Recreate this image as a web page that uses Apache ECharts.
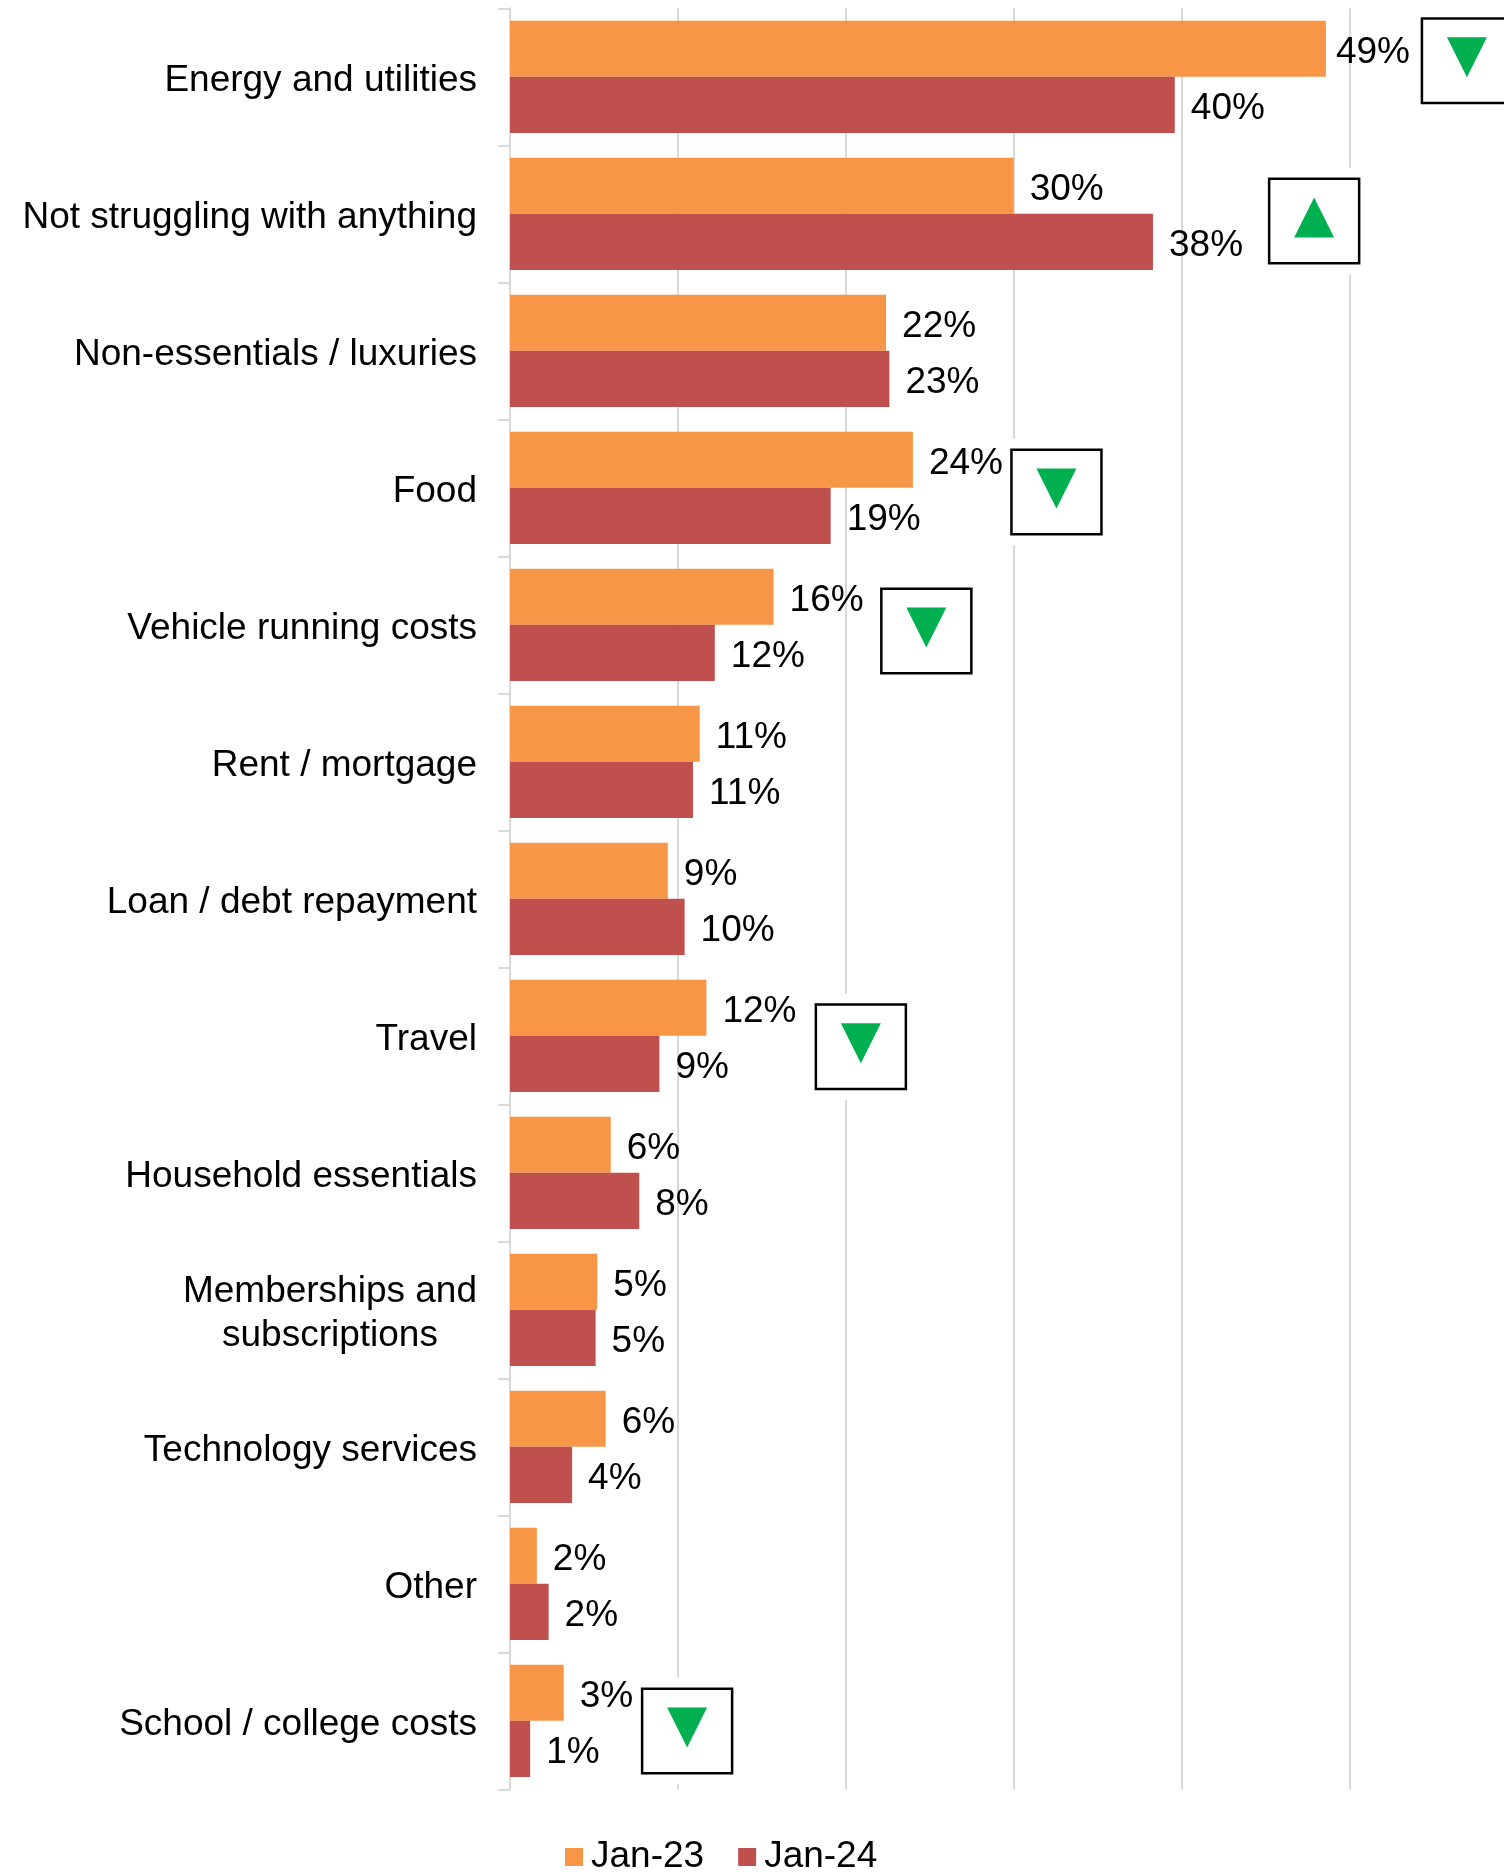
<!DOCTYPE html>
<html>
<head>
<meta charset="utf-8">
<script src="https://cdn.jsdelivr.net/npm/echarts@6/dist/echarts.min.js"></script>
<style>
  html, body { margin: 0; padding: 0; background: #fff; }
  #container { width: 1504px; height: 1872px; }
</style>
</head>
<body>
<div id="container"></div>
<script>
var categories = [
    'Energy and utilities',
    'Not struggling with anything',
    'Non-essentials / luxuries',
    'Food',
    'Vehicle running costs',
    'Rent / mortgage',
    'Loan / debt repayment',
    'Travel',
    'Household essentials',
    'Memberships and\nsubscriptions',
    'Technology services',
    'Other',
    'School / college costs'
];
var seriesNames = ['Jan-23', 'Jan-24'];
var jan23 = [48.6, 30.0, 22.4, 24.0, 15.7, 11.3, 9.4, 11.7, 6.0, 5.2, 5.7, 1.6, 3.2];
var jan24 = [39.6, 38.3, 22.6, 19.1, 12.2, 10.9, 10.4, 8.9, 7.7, 5.1, 3.7, 2.3, 1.2];

// significant change markers (box centre on the value axis, shift in bands)
var changeCats = ['Energy and utilities', 'Not struggling with anything', 'Food',
    'Vehicle running costs', 'Travel', 'School / college costs'];
var changeDir = ['down', 'up', 'down', 'down', 'down', 'down'];
var changeAt = [57.0, 47.9, 32.55, 24.8, 20.9, 10.55];
var changeShift = [-0.117, 0.053, 0.031, 0.045, 0.08, 0.074];

var font = '"Liberation Sans", Arial, sans-serif';

function loadChart(){
    var dom = document.getElementById('container');
    var myChart = echarts.init(dom, null, {renderer: 'canvas'});

    var markData = changeCats.map(function (c, i) {
        return [changeAt[i], c, changeDir[i] === 'up' ? 1 : -1, changeShift[i]];
    });

    var barLabel = {
        show: true,
        position: 'right',
        distance: 16,
        offset: [0, 4],
        color: '#000',
        fontSize: 37,
        fontFamily: font,
        formatter: function (p) { return Math.round(p.value) + '%'; }
    };

    var option = {
        animation: false,
        backgroundColor: '#fff',
        color: ['#F79646', '#C0504D'],
        grid: {
            left: 510,
            right: 154.6,
            top: 8.3,
            bottom: 82.7
        },
        legend: {
            data: seriesNames,
            left: 560,
            top: 1832,
            icon: 'rect',
            itemWidth: 18,
            itemHeight: 18,
            itemGap: 34,
            textStyle: {
                fontSize: 37,
                lineHeight: 40,
                color: '#000',
                fontFamily: font,
                padding: [0, 0, 0, 3]
            }
        },
        xAxis: {
            type: 'value',
            min: 0,
            max: 50,
            interval: 10,
            axisLabel: {show: false},
            axisLine: {show: false},
            axisTick: {show: false},
            splitLine: {
                show: true,
                lineStyle: {color: '#d9d9d9', width: 2}
            }
        },
        yAxis: {
            type: 'category',
            inverse: true,
            data: categories,
            axisLine: {
                show: true,
                lineStyle: {color: '#d9d9d9', width: 2}
            },
            axisTick: {
                show: true,
                length: 12,
                lineStyle: {color: '#d9d9d9', width: 2}
            },
            axisLabel: {
                interval: 0,
                margin: 33,
                padding: [7, 0, 0, 0],
                color: '#000',
                fontSize: 37,
                fontFamily: font,
                formatter: function (v) {
                    return v.split('\n').map(function (s) { return '{c|' + s + '}'; }).join('\n');
                },
                rich: {
                    c: {align: 'center', fontSize: 37, lineHeight: 44, color: '#000', fontFamily: font}
                }
            }
        },
        series: [{
            name: seriesNames[0],
            type: 'bar',
            barGap: '0%',
            barCategoryGap: '18%',
            data: jan23.map(function (v, i) {
                return i === 0 ? {value: v, label: {distance: 10}} : v;
            }),
            label: barLabel
        }, {
            name: seriesNames[1],
            type: 'bar',
            barGap: '0%',
            barCategoryGap: '18%',
            data: jan24,
            label: barLabel
        }, {
            // boxed green arrows
            type: 'custom',
            clip: false,
            z: 5,
            encode: {x: 0, y: 1},
            data: markData,
            renderItem: function (params, api) {
                var c = api.coord([api.value(0), api.value(1)]);
                var band = api.size([0, 1])[1];
                var cx = c[0];
                var cy = c[1] + api.value(3) * band;
                var w = 90, h = 84.5;
                var ty = cy - 3.5;
                var dir = api.value(2);
                var pts = dir > 0
                    ? [[cx - 20, ty + 20], [cx + 20, ty + 20], [cx, ty - 20]]
                    : [[cx - 20, ty - 20], [cx + 20, ty - 20], [cx, ty + 20]];
                return {
                    type: 'group',
                    children: [{
                        type: 'rect',
                        shape: {x: cx - w / 2, y: cy - h / 2 - 11, width: w, height: h + 22},
                        style: {fill: '#fff'}
                    }, {
                        type: 'rect',
                        shape: {x: cx - w / 2, y: cy - h / 2, width: w, height: h},
                        style: {fill: 'none', stroke: '#000', lineWidth: 2.5}
                    }, {
                        type: 'polygon',
                        shape: {points: pts},
                        style: {fill: '#00B050'}
                    }]
                };
            }
        }]
    };
    myChart.setOption(option, true);
}
loadChart();
</script>
</body>
</html>
